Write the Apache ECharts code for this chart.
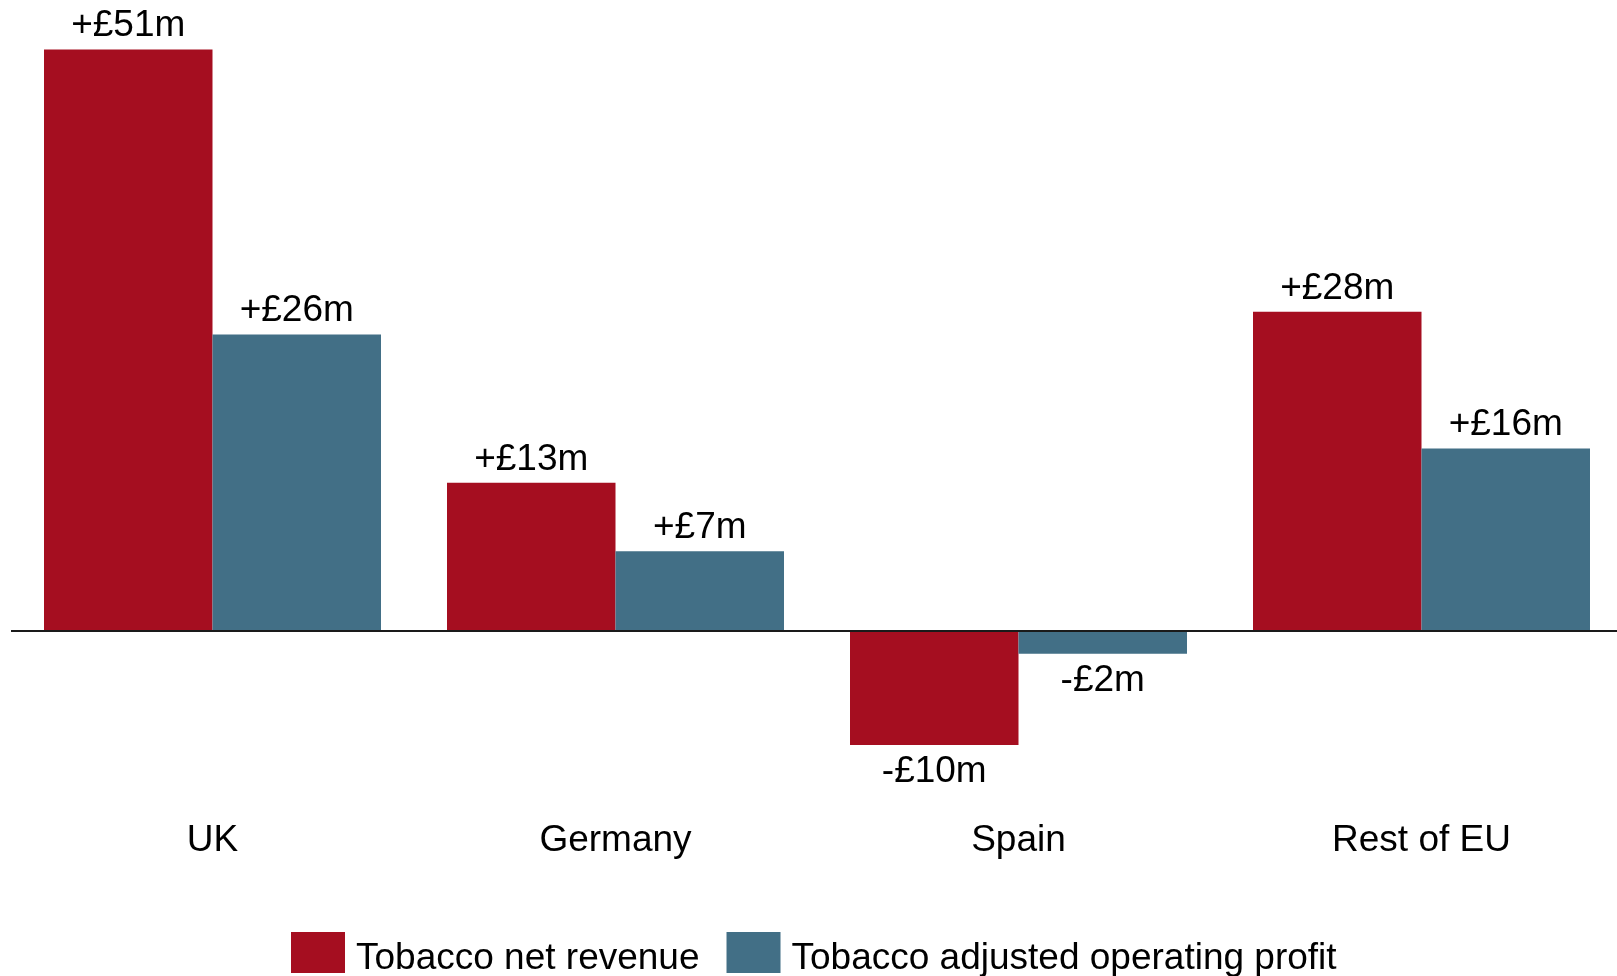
<!DOCTYPE html>
<html>
<head>
<meta charset="utf-8">
<script src="https://cdn.jsdelivr.net/npm/echarts@6/dist/echarts.min.js"></script>
<style>
  html, body { margin: 0; padding: 0; background: #fff; }
  #chart { width: 1617px; height: 976px; }
</style>
</head>
<body>
<div id="chart"></div>
<script>
// Change in tobacco results by market (£m)
const categories = ['UK', 'Germany', 'Spain', 'Rest of EU'];
const seriesNames = ['Tobacco net revenue', 'Tobacco adjusted operating profit'];
const netRevenue = [51, 13, -10, 28];
const operatingProfit = [26, 7, -2, 16];

const FONT = '"Liberation Sans", Arial, sans-serif';
const FONT_SIZE = 37;
const RED = '#A50E20';
const BLUE = '#426F86';

function fmt(v) {
  return (v >= 0 ? '+£' : '-£') + Math.abs(v) + 'm';
}

// Negative bars carry their label underneath the bar end
function toItems(values) {
  return values.map(function (v) {
    return {
      value: v,
      label: { position: v < 0 ? 'bottom' : 'top', distance: v < 0 ? 8 : 5 }
    };
  });
}

const labelStyle = {
  show: true,
  fontFamily: FONT,
  fontSize: FONT_SIZE,
  color: '#000',
  formatter: function (p) { return fmt(p.value); }
};

const chart = echarts.init(document.getElementById('chart'), null, { renderer: 'canvas' });

chart.setOption({
  animation: false,
  backgroundColor: '#fff',
  grid: {
    left: 11, right: -6, top: 4, bottom: 174,
    containLabel: false,
    outerBoundsMode: 'none'
  },
  legend: {
    data: seriesNames,
    left: 286,
    top: 927,
    itemWidth: 54,
    itemHeight: 41,
    itemGap: 27,
    icon: 'rect',
    formatter: '{t|{name}}',
    textStyle: {
      fontFamily: FONT, fontSize: FONT_SIZE, color: '#000',
      rich: {
        t: { fontFamily: FONT, fontSize: FONT_SIZE, color: '#000', padding: [12, 0, 0, 6] }
      }
    }
  },
  xAxis: {
    type: 'category',
    data: categories,
    axisLine: { show: false, onZero: false },
    axisTick: { show: false },
    axisLabel: { fontFamily: FONT, fontSize: FONT_SIZE, color: '#000', margin: 20 },
    splitLine: { show: false }
  },
  yAxis: {
    type: 'value',
    min: -15,
    max: 55,
    show: false,
    splitLine: { show: false }
  },
  series: [
    {
      name: seriesNames[0],
      type: 'bar',
      data: toItems(netRevenue),
      barWidth: 168.5,
      barGap: '0%',
      itemStyle: { color: RED },
      label: labelStyle,
      z: 2
    },
    {
      name: seriesNames[1],
      type: 'bar',
      data: toItems(operatingProfit),
      barWidth: 168.5,
      barGap: '0%',
      itemStyle: { color: BLUE },
      label: labelStyle,
      z: 2,
      // zero baseline across the plot
      markLine: {
        silent: true,
        symbol: 'none',
        label: { show: false },
        lineStyle: { color: '#1a1a1a', width: 2, type: 'solid' },
        data: [{ yAxis: 0 }],
        z: 5
      }
    }
  ]
});
</script>
</body>
</html>
